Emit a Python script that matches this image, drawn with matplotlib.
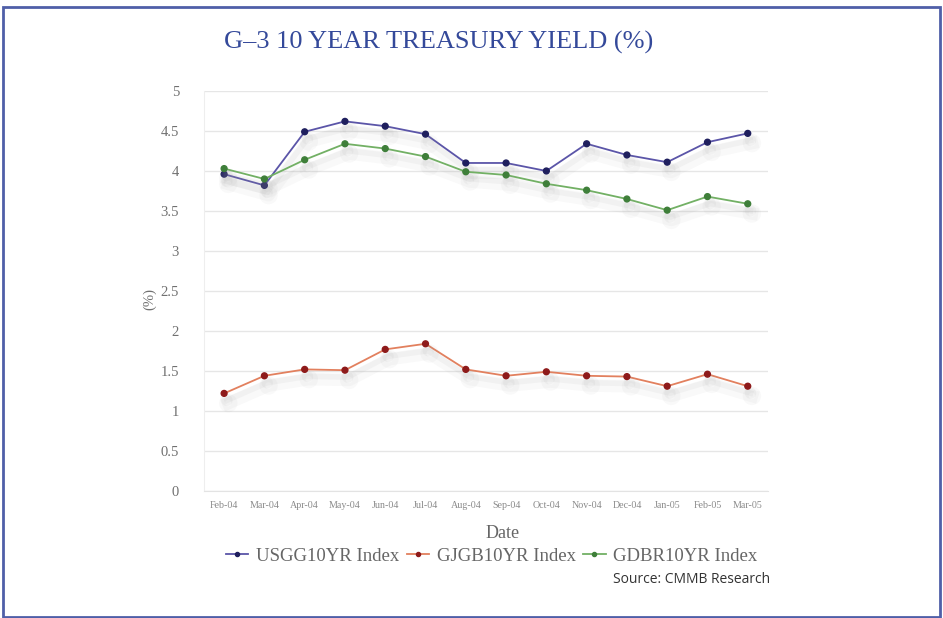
import matplotlib.pyplot as plt
import matplotlib.patheffects as pe
from matplotlib.patches import Rectangle

months = ['Feb-04', 'Mar-04', 'Apr-04', 'May-04', 'Jun-04', 'Jul-04', 'Aug-04',
          'Sep-04', 'Oct-04', 'Nov-04', 'Dec-04', 'Jan-05', 'Feb-05', 'Mar-05']
usgg = [3.96, 3.82, 4.49, 4.62, 4.56, 4.46, 4.10, 4.10, 4.00, 4.34, 4.20, 4.11, 4.36, 4.47]
gjgb = [1.22, 1.44, 1.52, 1.51, 1.77, 1.84, 1.52, 1.44, 1.49, 1.44, 1.43, 1.31, 1.46, 1.31]
gdbr = [4.03, 3.90, 4.14, 4.34, 4.28, 4.18, 3.99, 3.95, 3.84, 3.76, 3.65, 3.51, 3.68, 3.59]
yticks = [0, 0.5, 1, 1.5, 2, 2.5, 3, 3.5, 4, 4.5, 5]

series = [
    ('USGG10YR Index', usgg, '#5b55a8', '#1f1f5e'),
    ('GJGB10YR Index', gjgb, '#e2805e', '#8e1a1a'),
    ('GDBR10YR Index', gdbr, '#72b064', '#3f7f3a'),
]

fig = plt.figure(figsize=(9.43, 6.18), dpi=100)
fig.patches.append(Rectangle((0.003, 0.002), 0.994, 0.986, transform=fig.transFigure,
                             fill=False, edgecolor='#4f5fa8', linewidth=2))

ax = fig.add_axes([0.2163, 0.2055, 0.598, 0.6473])
x = list(range(len(months)))

# soft drop shadow under each line
shadow = [pe.SimpleLineShadow(offset=(3, -7), shadow_color='#999999', alpha=0.06, linewidth=9),
          pe.SimpleLineShadow(offset=(2, -5), shadow_color='#999999', alpha=0.08, linewidth=4),
          pe.Normal()]

for name, vals, lc, mc in series:
    ax.plot(x, vals, color=lc, linewidth=1.3, marker='o', markersize=4.2,
            markerfacecolor=mc, markeredgecolor=mc, label=name, path_effects=shadow)

ax.set_xlim(-0.5, len(months) - 0.5)
ax.set_ylim(0, 5)
ax.set_yticks(yticks)
ax.set_yticklabels(['0', '0.5', '1', '1.5', '2', '2.5', '3', '3.5', '4', '4.5', '5'],
                   fontfamily='Liberation Serif', fontsize=10.5, color='#707070')
ax.set_xticks(x)
ax.set_xticklabels(months, fontfamily='Liberation Serif', fontsize=7.2, color='#8a8a8a')
ax.tick_params(axis='both', length=0)
ax.tick_params(axis='y', pad=18)
ax.tick_params(axis='x', pad=7)

ax.grid(axis='y', color='#e6e6e6', linewidth=1)
ax.set_axisbelow(True)
for side in ['top', 'right']:
    ax.spines[side].set_visible(False)
ax.spines['left'].set_color('#eeeeee')
ax.spines['bottom'].set_color('#e3e3e3')
ax.spines['bottom'].set_linestyle((0, (2, 1)))

ax.set_ylabel('(%)', fontfamily='Liberation Serif', fontsize=10.5, color='#707070')
ax.yaxis.set_label_coords(-0.085, 0.48)
ax.set_xlabel('Date', fontfamily='Liberation Serif', fontsize=13, color='#666666')
ax.xaxis.set_label_coords(0.53, -0.085)

leg = ax.legend(loc='upper center', bbox_to_anchor=(0.51, -0.1), ncol=3, frameon=False,
                prop={'family': 'Liberation Serif', 'size': 13.5}, handlelength=1.2,
                handletextpad=0.4, columnspacing=0.4, markerscale=0.7)
for t in leg.get_texts():
    t.set_color('#666666')
for h in leg.legend_handles:
    h.set_path_effects([])

fig.text(0.4655, 0.931, 'G\u20133 10 YEAR TREASURY YIELD (%)', ha='center', va='center',
         fontfamily='Liberation Serif', fontsize=19, color='#34499a')
fig.text(0.650, 0.063, 'Source: CMMB Research', ha='left', va='center',
         fontfamily='Open Sans', fontsize=10, color='#333333')

fig.savefig('out.png', dpi=100)
